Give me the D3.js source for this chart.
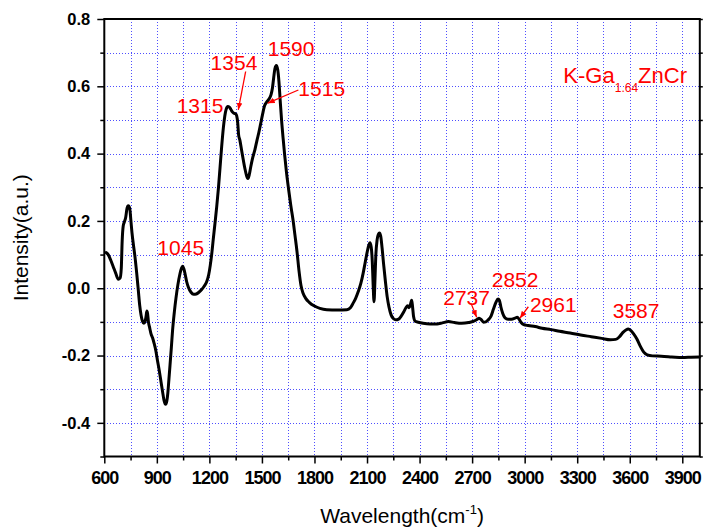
<!DOCTYPE html>
<html>
<head>
<meta charset="utf-8">
<script src="https://cdn.jsdelivr.net/npm/d3@7"></script>
<style>
  body { margin: 0; background: #fff; }
  svg text { font-family: Arial, "Liberation Sans", sans-serif; }
</style>
</head>
<body>
<svg id="chart" width="705" height="529"></svg>
<script>
// FTIR spectrum of K-Ga1.64ZnCr
const wavenumber = [
  610, 623, 637, 651, 665, 680, 690, 697, 702, 708, 714, 722, 730, 737, 745, 752, 758, 766, 775, 785,
  794, 802, 810, 818, 826, 833, 838, 843, 847, 852, 858, 866, 876, 884, 894, 903, 913, 922, 932, 941,
  950, 957, 963, 969, 975, 983, 990, 1000, 1009, 1020, 1032, 1041, 1047, 1054, 1061, 1070, 1080, 1095,
  1110, 1125, 1140, 1156, 1170, 1185, 1196, 1205, 1213, 1222, 1232, 1242, 1252, 1261, 1270, 1280, 1288,
  1296, 1305, 1314, 1322, 1330, 1340, 1350, 1356, 1362, 1367, 1374, 1384, 1394, 1403, 1412, 1420, 1428,
  1436, 1446, 1460, 1472, 1482, 1492, 1503, 1515, 1527, 1540, 1552, 1560, 1567, 1574, 1582, 1590, 1597,
  1604, 1612, 1621, 1630, 1640, 1652, 1665, 1677, 1688, 1700, 1712, 1723, 1735, 1750, 1770, 1800, 1831,
  1870, 1930, 1985, 2005, 2020, 2035, 2050, 2065, 2078, 2090, 2100, 2110, 2117, 2124, 2130, 2135, 2140,
  2145, 2150, 2158, 2165, 2171, 2178, 2186, 2195, 2205, 2215, 2225, 2238, 2250, 2265, 2280, 2295, 2310,
  2322, 2332, 2340, 2348, 2355, 2360, 2366, 2375, 2393, 2420, 2460, 2500, 2530, 2565, 2600, 2640, 2680,
  2710, 2728, 2740, 2752, 2765, 2778, 2792, 2808, 2822, 2836, 2848, 2856, 2864, 2875, 2888, 2905, 2925,
  2945, 2958, 2968, 2980, 2995, 3020, 3060, 3100, 3150, 3200, 3260, 3320, 3380, 3440, 3490, 3520, 3540,
  3560, 3578, 3592, 3605, 3620, 3640, 3660, 3680, 3700, 3730, 3780, 3840, 3900, 3950, 4000
];
const intensity = [
  0.106, 0.099, 0.083, 0.064, 0.045, 0.027, 0.030, 0.060, 0.140, 0.185, 0.196, 0.210, 0.238, 0.245, 0.238, 0.200, 0.165, 0.130, 0.094, 0.045,
  -0.005, -0.050, -0.080, -0.098, -0.104, -0.098, -0.085, -0.068, -0.075, -0.100, -0.115, -0.134, -0.148, -0.163, -0.185, -0.213, -0.242, -0.272, -0.305, -0.333,
  -0.345, -0.335, -0.310, -0.270, -0.230, -0.175, -0.124, -0.070, -0.030, 0.010, 0.043, 0.060, 0.065, 0.058, 0.043, 0.020, 0.003, -0.012,
  -0.018, -0.017, -0.012, -0.004, 0.006, 0.020, 0.040, 0.068, 0.100, 0.145, 0.193, 0.243, 0.300, 0.360, 0.420, 0.478, 0.512,
  0.532, 0.540, 0.538, 0.532, 0.525, 0.520, 0.518, 0.512, 0.490, 0.455, 0.440, 0.410, 0.380, 0.355, 0.335, 0.326, 0.338,
  0.360, 0.385, 0.412, 0.440, 0.462, 0.487, 0.515, 0.542, 0.553, 0.562, 0.575, 0.595, 0.625, 0.652, 0.662, 0.650, 0.615,
  0.560, 0.500, 0.445, 0.395, 0.345, 0.295, 0.245, 0.205, 0.160, 0.110, 0.050, 0.008, -0.015, -0.030, -0.042, -0.053, -0.060,
  -0.064, -0.065, -0.064, -0.058, -0.045, -0.030, -0.010, 0.015, 0.045, 0.078, 0.105, 0.128, 0.135, 0.122, 0.080, 0.010, -0.040,
  0.020, 0.095, 0.145, 0.160, 0.164, 0.155, 0.120, 0.070, 0.020, -0.025, -0.055, -0.080, -0.090, -0.094, -0.092, -0.083, -0.070,
  -0.058, -0.052, -0.058, -0.048, -0.036, -0.055, -0.085, -0.098, -0.101, -0.104, -0.106, -0.106, -0.103, -0.099, -0.102, -0.104, -0.102,
  -0.098, -0.093, -0.089, -0.093, -0.101, -0.100, -0.094, -0.083, -0.062, -0.042, -0.032, -0.036, -0.055, -0.075, -0.088, -0.092, -0.092,
  -0.089, -0.086, -0.092, -0.102, -0.108, -0.111, -0.114, -0.119, -0.123, -0.128, -0.133, -0.139, -0.144, -0.149, -0.153, -0.152, -0.145,
  -0.132, -0.124, -0.121, -0.125, -0.134, -0.150, -0.172, -0.190, -0.198, -0.201, -0.202, -0.204, -0.206, -0.205, -0.204
];

const xTicks = [600, 900, 1200, 1500, 1800, 2100, 2400, 2700, 3000, 3300, 3600, 3900];
const yTicks = [-0.4, -0.2, 0.0, 0.2, 0.4, 0.6, 0.8];

// peak labels
const peakText = ["1045", "1315", "1354", "1515", "1590", "2737", "2852", "2961", "3587"];

const svg = d3.select("#chart");
const plotL = 104.3, plotR = 699.8, plotT = 19, plotB = 456.5;

const x = d3.scaleLinear().domain([600, 4000]).range([plotL, plotR]);
const y = d3.scaleLinear().domain([-0.5, 0.8]).range([plotB, plotT]);

const xMinor = d3.range(750, 4000, 300);
const yMinor = [-0.5, -0.3, -0.1, 0.1, 0.3, 0.5, 0.7];
const xGrid = d3.range(750, 4000, 150);
const yGrid = d3.range(-4, 8).map(k => k / 10);

// dotted grid
const grid = svg.append("g").attr("stroke", "#4f4fff").attr("stroke-width", 1)
  .attr("stroke-dasharray", "1,2").attr("shape-rendering", "crispEdges");
grid.selectAll("line.v").data(xGrid).join("line").attr("class", "v")
  .attr("x1", d => Math.round(x(d)) + 0.5).attr("x2", d => Math.round(x(d)) + 0.5)
  .attr("y1", plotT).attr("y2", plotB);
grid.selectAll("line.h").data(yGrid).join("line").attr("class", "h")
  .attr("y1", d => Math.round(y(d)) + 0.5).attr("y2", d => Math.round(y(d)) + 0.5)
  .attr("x1", plotL).attr("x2", plotR);

// spectrum
const pts = wavenumber.map((w, i) => [w, intensity[i]]);
svg.append("path").datum(pts)
  .attr("fill", "none").attr("stroke", "#000").attr("stroke-width", 3)
  .attr("stroke-linejoin", "round").attr("stroke-linecap", "round")
  .attr("d", d3.line().x(d => x(d[0])).y(d => y(d[1])).curve(d3.curveMonotoneX));

// axes
function styleAxis(g) {
  g.select(".domain").remove();
  g.selectAll(".tick line").attr("stroke", "#000").attr("stroke-width", 1.5);
}
svg.append("g").attr("transform", `translate(0,${plotB})`)
  .call(d3.axisBottom(x).tickValues(xTicks).tickSize(7).tickPadding(8).tickFormat(d3.format("d")))
  .call(styleAxis)
  .call(g => g.selectAll("text").attr("fill", "#000").attr("font-size", 18)
    .attr("font-weight", "bold").attr("letter-spacing", "-1px"));
svg.append("g").attr("transform", `translate(0,${plotB})`)
  .call(d3.axisBottom(x).tickValues(xMinor).tickSize(4).tickFormat(""))
  .call(styleAxis);

svg.append("g").attr("transform", `translate(${plotL},0)`)
  .call(d3.axisLeft(y).tickValues(yTicks).tickSize(7).tickPadding(7).tickFormat(d => d.toFixed(1)))
  .call(styleAxis)
  .call(g => g.selectAll("text").attr("fill", "#000").attr("font-size", 16.5).attr("font-weight", "bold"));
svg.append("g").attr("transform", `translate(${plotL},0)`)
  .call(d3.axisLeft(y).tickValues(yMinor).tickSize(4).tickFormat(""))
  .call(styleAxis);

svg.append("g").attr("transform", `translate(${plotR},0)`)
  .call(d3.axisRight(y).tickValues(yGrid.concat([0.8, -0.5])).tickSize(3).tickFormat(""))
  .call(styleAxis);

// frame
svg.append("rect").attr("x", plotL).attr("y", plotT)
  .attr("width", plotR - plotL).attr("height", plotB - plotT)
  .attr("fill", "none").attr("stroke", "#000").attr("stroke-width", 2);

// axis titles
const xt = svg.append("text").attr("x", (plotL + plotR) / 2).attr("y", 523)
  .attr("text-anchor", "middle").attr("font-size", 21).attr("fill", "#000");
xt.append("tspan").text("Wavelength(cm");
xt.append("tspan").attr("font-size", 13).attr("dy", -9).text("-1");
xt.append("tspan").attr("dy", 9).text(")");

svg.append("text")
  .attr("transform", `translate(28,${(plotT + plotB) / 2}) rotate(-90)`)
  .attr("text-anchor", "middle").attr("font-size", 21).attr("fill", "#000")
  .text("Intensity(a.u.)");

// peak annotations: label position and optional arrow, in data units
const red = "#ff0000";
svg.append("defs").append("marker")
  .attr("id", "head").attr("viewBox", "0 0 10 10").attr("refX", 10).attr("refY", 5)
  .attr("markerWidth", 7).attr("markerHeight", 7).attr("markerUnits", "userSpaceOnUse")
  .attr("orient", "auto")
  .append("path").attr("d", "M0,1 L10,5 L0,9 Z").attr("fill", red);

const notes = [
  { t: peakText[0], at: [903, 0.099] },
  { t: peakText[1], at: [1013, 0.522] },
  { t: peakText[2], at: [1207, 0.647], from: [1407, 0.644], to: [1365, 0.530] },
  { t: peakText[3], at: [1708, 0.571], from: [1708, 0.589], to: [1533, 0.550] },
  { t: peakText[4], at: [1533, 0.691] },
  { t: peakText[5], at: [2535, -0.050], from: [2694, -0.045], to: [2726, -0.086] },
  { t: peakText[6], at: [2812, 0.005] },
  { t: peakText[7], at: [3030, -0.070], from: [3021, -0.055], to: [2973, -0.089] },
  { t: peakText[8], at: [3503, -0.089] }
];
const ann = svg.append("g");
notes.forEach(n => {
  ann.append("text").attr("x", x(n.at[0])).attr("y", y(n.at[1]))
    .attr("font-size", 21).attr("fill", red).text(n.t);
  if (n.from) {
    ann.append("line")
      .attr("x1", x(n.from[0])).attr("y1", y(n.from[1]))
      .attr("x2", x(n.to[0])).attr("y2", y(n.to[1]))
      .attr("stroke", red).attr("stroke-width", 1.3).attr("marker-end", "url(#head)");
  }
});

// sample name
const title = svg.append("text").attr("x", x(3221)).attr("y", y(0.609))
  .attr("font-size", 22).attr("fill", red);
title.append("tspan").text("K-Ga");
title.append("tspan").attr("font-size", 12).attr("dy", 8.4).text("1.64");
title.append("tspan").attr("dy", -8.4).text("ZnCr");
</script>
</body>
</html>
